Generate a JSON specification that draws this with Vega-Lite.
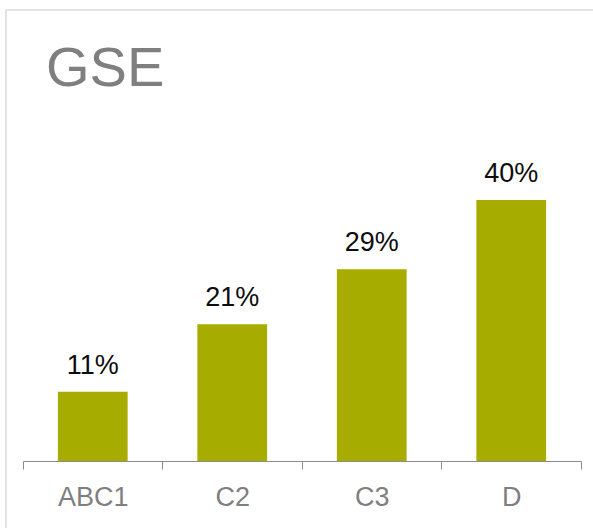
{
  "$schema": "https://vega.github.io/schema/vega-lite/v6.json",
  "usermeta": {"embedOptions": {"actions": false}},
  "autosize": {"type": "none"},
  "padding": {"left": 6, "top": 10, "right": 0, "bottom": 0},
  "width": 587,
  "height": 518,
  "background": "white",
  "title": {
    "text": "GSE",
    "anchor": "start",
    "frame": "group",
    "orient": "top",
    "offset": -88,
    "dx": 40,
    "fontSize": 56,
    "font": "Liberation Sans",
    "fontWeight": "normal",
    "color": "#7f7f7f"
  },
  "data": {
    "values": [
      {"group": "ABC1", "share": 0.1062},
      {"group": "C2", "share": 0.2095},
      {"group": "C3", "share": 0.294},
      {"group": "D", "share": 0.40}
    ]
  },
  "encoding": {
    "x": {
      "field": "group",
      "type": "nominal",
      "sort": null,
      "scale": {"paddingInner": 0, "paddingOuter": 0.104, "align": 0.586},
      "axis": {
        "title": null,
        "domain": true,
        "domainColor": "#8c8c8c",
        "domainWidth": 1,
        "domainDash": [0, 17, 558, 1000],
        "ticks": true,
        "tickBand": "extent",
        "tickColor": "#8c8c8c",
        "tickSize": 8,
        "tickWidth": 1,
        "labelFont": "Liberation Sans",
        "labelFontSize": 27,
        "labelColor": "#7f7f7f",
        "labelPadding": 15,
        "labelAngle": 0,
        "offset": -67,
        "grid": false
      }
    },
    "y": {
      "field": "share",
      "type": "quantitative",
      "scale": {"domain": [-0.1027, 0.6912], "nice": false, "zero": false},
      "axis": null
    }
  },
  "layer": [
    {
      "mark": {"type": "bar", "width": {"band": 0.5}, "color": "#a6ad00"},
      "encoding": {"y2": {"datum": 0}}
    },
    {
      "mark": {
        "type": "text",
        "baseline": "alphabetic",
        "dy": -18,
        "fontSize": 27,
        "font": "Liberation Sans",
        "color": "#0d0d0d"
      },
      "encoding": {
        "text": {"field": "share", "type": "quantitative", "format": ".0%"}
      }
    }
  ],
  "config": {
    "view": {"stroke": "#d9d9d9", "strokeWidth": 1.5, "strokeDash": [587, 1105, 518, 0]}
  }
}
